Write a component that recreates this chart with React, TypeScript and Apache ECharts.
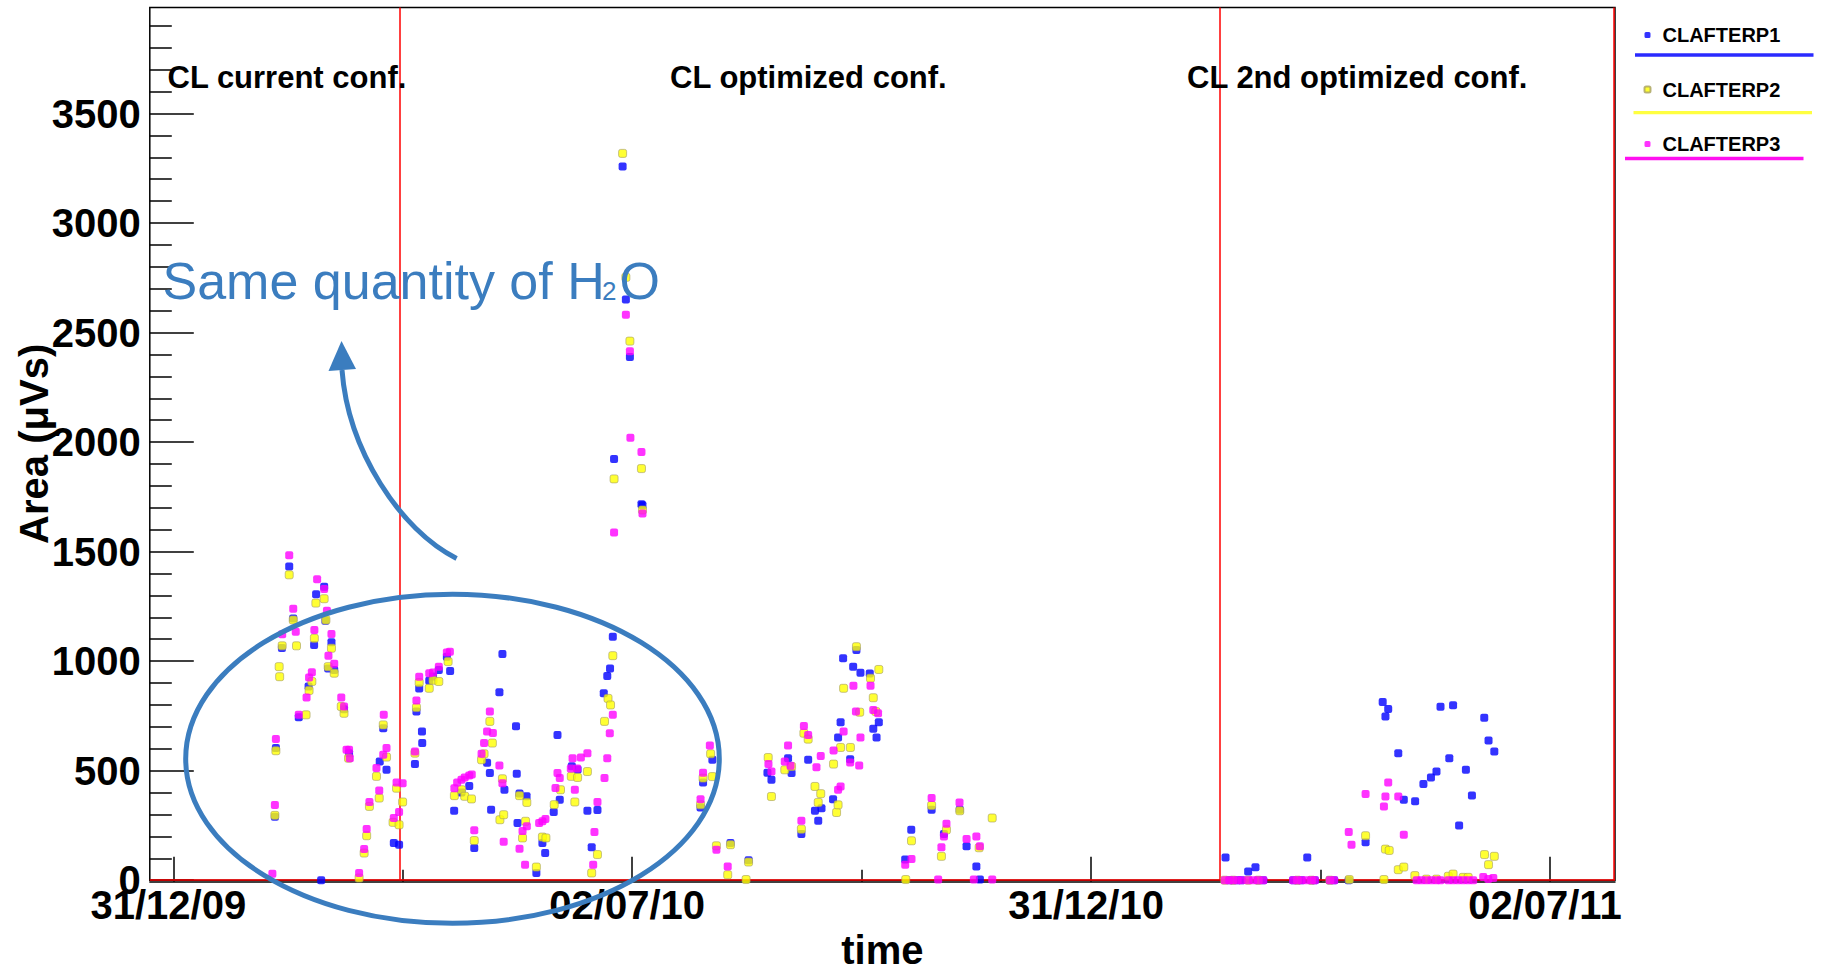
import React, { useEffect, useRef } from "react";
import * as echarts from "echarts";

// ---------- data (x = days since 31/12/2009, y = Area in µVs) ----------
const seriesNames = ["CLAFTERP1", "CLAFTERP2", "CLAFTERP3"];
const seriesColors = ["#0000ff", "#ffff00", "#ff00ff"];
const legendLineColors = ["#2a2aff", "#ffff40", "#ff10f0"];

const xTickDays = [0, 182.5, 365, 547.5];
const xTickLabels = ["31/12/09", "02/07/10", "31/12/10", "02/07/11"];
const xMidTickDays = [91.25, 273.75, 456.25];
const xMinDay = -9.35;
const xMaxDay = 573.4;

const yTickValues = [0, 500, 1000, 1500, 2000, 2500, 3000, 3500];
const yMinorTickValues = [
  100, 200, 300, 400, 600, 700, 800, 900, 1100, 1200, 1300, 1400, 1600, 1700,
  1800, 1900, 2100, 2200, 2300, 2400, 2600, 2700, 2800, 2900, 3100, 3200, 3300,
  3400, 3600, 3700, 3800, 3900,
];
const yMax = 3984;

const phaseBoundaryDays = [90.0, 416.3, 572.9];
const phaseLabels = ["CL current conf.", "CL optimized conf.", "CL 2nd optimized conf."];

const clafterp1 = [
  [40.4, 290], [40.8, 603], [43.2, 1060], [46.1, 1432], [47.7, 1195], [49.9, 744],
  [53.8, 884], [56.0, 1074], [56.8, 1305], [58.8, 0], [60.0, 1340], [60.5, 1184],
  [61.6, 967], [62.9, 1086], [64.0, 960], [67.9, 780], [69.9, 580], [82.1, 542],
  [83.5, 694], [84.8, 504], [87.7, 170], [89.8, 162], [96.1, 530], [96.7, 770],
  [97.8, 875], [98.9, 679], [99.0, 626], [101.8, 910], [103.3, 930], [105.6, 960],
  [108.8, 1020], [110.1, 955], [111.7, 317], [114.6, 400], [117.7, 430], [119.7, 147],
  [124.8, 536], [125.9, 489], [126.4, 322], [129.7, 858], [130.9, 1033], [131.7, 413],
  [136.3, 703], [136.6, 486], [136.9, 261], [137.7, 396], [140.5, 383], [144.4, 33],
  [146.8, 170], [147.9, 124], [151.3, 311], [152.8, 663], [153.7, 367], [158.5, 520],
  [160.8, 505], [164.7, 317], [166.4, 150], [168.7, 321], [171.2, 854], [172.6, 932],
  [173.7, 967], [174.8, 1111], [175.3, 1923], [178.7, 3258], [180.0, 2651],
  [181.6, 2388], [186.2, 1716], [186.6, 1712],
  [209.7, 332], [210.7, 446], [214.4, 550], [221.6, 170], [228.8, 91], [236.3, 491],
  [237.9, 458], [244.5, 557], [245.9, 489], [249.8, 211], [252.5, 550], [255.2, 317],
  [256.5, 271], [257.8, 329], [262.4, 370], [264.4, 651], [265.4, 721], [266.4, 1013],
  [269.2, 552], [270.4, 975], [271.7, 1051], [273.3, 947], [277.0, 944], [278.4, 691],
  [279.7, 651], [280.6, 721], [291.1, 94], [293.5, 230], [301.6, 322], [306.5, 211],
  [312.8, 322], [315.5, 155], [319.4, 63], [320.8, 3],
  [418.5, 104], [420.0, 0], [421.5, 0], [423.3, 0], [424.9, 0], [427.5, 40],
  [430.4, 59], [431.5, 0], [433.5, 0], [445.4, 0], [447.1, 0], [448.7, 0],
  [451.0, 104], [452.7, 0], [454.0, 0], [460.0, 0], [461.7, 0], [467.5, 0],
  [474.2, 173], [481.0, 814], [482.1, 747], [483.2, 781], [487.2, 580], [489.4, 367],
  [493.9, 360], [497.2, 439], [500.2, 469], [502.4, 496], [504.0, 792], [507.5, 557],
  [509.0, 799], [511.4, 250], [514.1, 504], [516.5, 387], [521.4, 742], [523.1, 638],
  [525.4, 588],
];

const clafterp2 = [
  [40.4, 296], [40.8, 591], [42.1, 975], [42.3, 929], [43.3, 1070], [46.1, 1394],
  [47.7, 1188], [49.0, 1070], [52.8, 755], [54.0, 866], [55.1, 907], [56.1, 1104],
  [56.7, 1265], [60.0, 1285], [60.7, 1188], [61.6, 975], [62.9, 1059], [64.0, 945],
  [66.8, 793], [67.9, 762], [69.7, 557], [73.9, 10], [75.9, 124], [76.9, 203],
  [78.0, 337], [80.8, 474], [81.9, 375], [83.5, 709], [84.8, 562], [87.4, 264],
  [88.8, 420], [89.8, 253], [91.2, 357], [96.1, 580], [96.7, 788], [97.8, 902],
  [101.8, 876], [103.3, 913], [105.6, 907], [109.3, 998], [111.8, 386], [114.6, 413],
  [115.9, 383], [118.6, 371], [119.7, 181], [122.6, 550], [123.6, 577], [125.9, 725],
  [126.9, 626], [129.9, 276], [130.9, 463], [131.4, 299], [137.7, 386], [138.9, 193],
  [140.1, 269], [140.6, 355], [144.4, 60], [146.8, 197], [148.2, 193], [151.5, 345],
  [154.0, 413], [158.3, 474], [159.7, 357], [160.8, 469], [164.7, 496], [166.4, 33],
  [168.7, 117], [171.5, 725], [172.9, 830], [173.9, 800], [174.8, 1025], [175.3, 1832],
  [178.7, 3318], [180.0, 2752], [181.6, 2461], [186.2, 1879], [186.6, 1690],
  [209.7, 344], [210.7, 466], [213.7, 577], [214.4, 473], [216.0, 157], [220.5, 25],
  [221.6, 162], [227.8, 3], [228.8, 83], [236.6, 560], [237.9, 382], [243.2, 504],
  [245.9, 519], [249.8, 233], [250.8, 671], [252.5, 644], [255.2, 428], [256.5, 355],
  [257.5, 395], [262.6, 530], [263.8, 309], [264.4, 344], [265.4, 606], [266.6, 876],
  [269.3, 606], [271.7, 1066], [273.0, 767], [277.3, 922], [278.4, 833], [279.4, 770],
  [280.6, 962], [291.3, 3], [293.6, 180], [301.6, 341], [305.5, 109], [307.5, 230],
  [312.8, 317], [320.5, 148], [325.7, 284],
  [418.2, 0], [421.5, 0], [427.5, 0], [431.5, 0], [447.1, 0], [452.7, 0], [460.0, 0],
  [467.7, 3], [474.2, 203], [481.5, 3], [482.1, 142], [483.6, 136], [487.2, 48],
  [489.4, 60], [493.8, 21], [498.4, 5], [502.4, 5], [507.1, 18], [509.0, 28],
  [513.0, 13], [515.0, 13], [521.5, 117], [523.1, 71], [525.4, 109],
];

const clafterp3 = [
  [39.4, 29], [40.4, 343], [40.8, 645], [43.3, 1123], [46.1, 1484], [47.7, 1239],
  [48.7, 1134], [49.9, 755], [53.0, 834], [54.0, 925], [55.1, 949], [56.1, 1142],
  [57.2, 1374], [60.0, 1329], [61.1, 1230], [61.7, 1025], [62.9, 1124], [64.0, 988],
  [66.8, 834], [67.9, 793], [68.9, 595], [69.9, 595], [70.2, 557], [73.9, 33],
  [75.9, 143], [76.9, 234], [78.0, 357], [80.8, 512], [81.9, 410], [83.5, 573],
  [83.7, 755], [84.8, 603], [87.7, 284], [88.8, 446], [89.8, 311], [91.2, 443],
  [96.1, 588], [96.7, 820], [97.8, 929], [101.8, 945], [103.3, 948], [105.6, 975],
  [108.8, 1039], [110.0, 1043], [111.8, 420], [112.9, 446], [114.6, 459], [115.9, 469],
  [117.7, 478], [118.7, 483], [119.7, 228], [122.6, 577], [123.6, 626], [124.8, 679],
  [125.9, 770], [127.1, 672], [129.7, 524], [130.9, 443], [131.4, 176], [137.7, 144],
  [138.9, 225], [139.9, 71], [140.6, 246], [145.5, 261], [146.8, 269], [148.0, 279],
  [152.0, 421], [152.8, 489], [153.7, 466], [158.1, 510], [158.8, 557], [159.7, 413],
  [160.6, 510], [162.1, 560], [164.7, 580], [167.0, 71], [167.5, 220], [168.7, 357],
  [171.5, 466], [172.6, 557], [173.6, 671], [174.8, 755], [175.3, 1587], [180.0, 2581],
  [181.6, 2415], [181.8, 2020], [186.2, 1955], [186.6, 1674],
  [209.7, 370], [210.7, 491], [213.4, 615], [216.0, 139], [220.5, 63], [236.7, 531],
  [237.9, 496], [243.2, 542], [244.5, 615], [245.5, 522], [249.8, 271], [250.8, 704],
  [252.5, 663], [255.8, 516], [257.5, 567], [262.6, 592], [264.4, 413], [265.4, 428],
  [266.6, 679], [269.2, 537], [270.5, 888], [271.5, 770], [272.8, 524], [273.3, 651],
  [277.3, 888], [278.4, 777], [280.3, 762], [291.1, 71], [293.6, 97], [301.6, 375],
  [304.2, 3], [305.5, 150], [306.5, 200], [307.5, 258], [312.7, 355], [315.5, 188],
  [318.4, 3], [319.4, 200], [320.8, 155], [325.7, 3],
  [418.2, 0], [420.0, 0], [421.5, 0], [423.3, 0], [424.9, 0], [427.5, 0], [429.5, 0],
  [431.5, 0], [433.5, 0], [445.4, 0], [447.1, 0], [448.7, 0], [450.7, 0], [452.7, 0],
  [454.0, 0], [460.0, 0], [461.7, 0], [467.5, 220], [468.6, 162], [474.2, 394],
  [481.5, 337], [482.1, 382], [483.2, 446], [487.2, 382], [489.4, 208], [494.5, 0],
  [496.4, 0], [498.4, 0], [500.4, 0], [502.4, 0], [504.0, 0], [507.1, 0], [509.0, 0],
  [511.0, 0], [513.0, 0], [515.0, 0], [517.0, 0], [521.0, 15], [523.0, 5], [525.0, 10],
];

const seriesData = [clafterp1, clafterp2, clafterp3];

const FONT = "'Liberation Sans', Arial, Helvetica, sans-serif";
const ANNOT_BLUE = "#3b7dbf";

export default function App() {
  const ref = useRef<HTMLDivElement>(null);

  useEffect(() => {
    if (!ref.current) return;
    const chart = echarts.init(ref.current, undefined, { renderer: "svg" });

    const scatterSeries = seriesNames.map((name, i) => ({
      name,
      type: "scatter",
      data: seriesData[i],
      xAxisIndex: 0,
      yAxisIndex: 0,
      symbol: "roundRect",
      symbolSize: 8,
      itemStyle:
        i === 1
          ? { color: seriesColors[i], borderColor: "#a8a060", borderWidth: 0.8 }
          : { color: seriesColors[i] },
      emphasis: { disabled: true },
      z: 3,
    }));

    const phaseText = (text: string, x: number) => ({
      type: "text",
      x,
      y: 77,
      z: 50,
      style: {
        text,
        fontFamily: FONT,
        fontSize: 31,
        fontWeight: "bold",
        fill: "#000",
        align: "left",
        verticalAlign: "middle",
      },
    });

    const option: any = {
      animation: false,
      backgroundColor: "#ffffff",
      grid: {
        left: 149.8,
        right: 209,
        top: 7.5,
        bottom: 90.8,
        show: true,
        borderColor: "#000",
        borderWidth: 1.5,
        backgroundColor: "transparent",
        containLabel: false,
        outerBoundsMode: "none",
      },
      legend: {
        show: true,
        orient: "vertical",
        left: 1638.5,
        top: 20,
        itemWidth: 6,
        itemHeight: 6,
        itemGap: 34.5,
        selectedMode: false,
        data: seriesNames,
        textStyle: {
          fontFamily: FONT,
          fontSize: 20,
          fontWeight: "bold",
          color: "#000",
          lineHeight: 20,
          padding: [0, 0, 0, 7],
        },
      },
      xAxis: [
        {
          type: "value",
          min: xMinDay,
          max: xMaxDay,
          position: "bottom",
          offset: 1.5,
          name: "time",
          nameLocation: "middle",
          nameGap: 53,
          nameMoveOverlap: false,
          nameTextStyle: {
            fontFamily: FONT,
            fontSize: 40,
            fontWeight: "bold",
            color: "#000",
            lineHeight: 30,
          },
          axisLine: { show: true, onZero: false, lineStyle: { color: "#000", width: 1.5 } },
          axisTick: {
            show: true,
            inside: true,
            length: 25,
            customValues: xTickDays,
            lineStyle: { color: "#000", width: 1.5 },
          },
          axisLabel: {
            show: true,
            customValues: xTickDays,
            margin: 3.5,
            formatter: (v: number) => {
              const idx = xTickDays.findIndex((d) => Math.abs(d - v) < 1e-6);
              return idx >= 0 ? `{a|${xTickLabels[idx]}}` : "";
            },
            rich: {
              a: {
                fontFamily: FONT,
                fontSize: 40,
                fontWeight: "bold",
                color: "#000",
                padding: [0, 10, 0, 0],
              },
            },
          },
          splitLine: { show: false },
        },
        {
          type: "value",
          min: xMinDay,
          max: xMaxDay,
          position: "bottom",
          offset: 1.5,
          axisLine: { show: false, onZero: false },
          axisLabel: { show: false },
          axisTick: {
            show: true,
            inside: true,
            length: 12,
            customValues: xMidTickDays,
            lineStyle: { color: "#000", width: 1.5 },
          },
          splitLine: { show: false },
        },
      ],
      yAxis: [
        {
          type: "value",
          min: 0,
          max: yMax,
          position: "left",
          name: "Area (\u03bcVs)",
          nameLocation: "middle",
          nameRotate: 90,
          nameGap: 96,
          nameMoveOverlap: false,
          nameTextStyle: { fontFamily: FONT, fontSize: 40, fontWeight: "bold", color: "#000" },
          axisLine: { show: false, onZero: false },
          axisTick: {
            show: true,
            inside: true,
            length: 44,
            customValues: yTickValues,
            lineStyle: { color: "#000", width: 1.5 },
          },
          axisLabel: {
            show: true,
            customValues: yTickValues,
            margin: 9,
            fontFamily: FONT,
            fontSize: 40,
            fontWeight: "bold",
            color: "#000",
            formatter: (v: number) => String(v),
          },
          splitLine: { show: false },
        },
        {
          type: "value",
          min: 0,
          max: yMax,
          position: "left",
          axisLine: { show: false, onZero: false },
          axisLabel: { show: false },
          axisTick: {
            show: true,
            inside: true,
            length: 22,
            customValues: yMinorTickValues,
            lineStyle: { color: "#000", width: 1.5 },
          },
          splitLine: { show: false },
        },
      ],
      series: [
        {
          name: "phases",
          type: "scatter",
          data: [],
          xAxisIndex: 0,
          yAxisIndex: 0,
          markLine: {
            silent: true,
            symbol: "none",
            z: 1,
            label: { show: false },
            lineStyle: { color: "#ff0000", width: 1.5, type: "solid" },
            emphasis: { disabled: true },
            data: [
              ...phaseBoundaryDays.map((d) => ({ xAxis: d })),
              { yAxis: 0 },
            ],
          },
        },
        ...scatterSeries,
      ],
      graphic: [
        phaseText(phaseLabels[0], 167.5),
        phaseText(phaseLabels[1], 670),
        phaseText(phaseLabels[2], 1187),
        {
          type: "text",
          x: 162.5,
          y: 281.3,
          z: 60,
          style: {
            text: "Same quantity of H",
            fontFamily: FONT,
            fontSize: 52,
            fill: ANNOT_BLUE,
            align: "left",
            verticalAlign: "middle",
          },
        },
        {
          type: "text",
          x: 602,
          y: 291,
          z: 60,
          style: {
            text: "2",
            fontFamily: FONT,
            fontSize: 26,
            fill: ANNOT_BLUE,
            align: "left",
            verticalAlign: "middle",
          },
        },
        {
          type: "text",
          x: 619.5,
          y: 281.3,
          z: 60,
          style: {
            text: "O",
            fontFamily: FONT,
            fontSize: 52,
            fill: ANNOT_BLUE,
            align: "left",
            verticalAlign: "middle",
          },
        },
        {
          type: "ellipse",
          z: 60,
          shape: { cx: 452.5, cy: 758.8, rx: 266.8, ry: 164.5 },
          style: { fill: "none", stroke: ANNOT_BLUE, lineWidth: 5 },
        },
        {
          type: "bezierCurve",
          z: 60,
          shape: {
            x1: 456.6,
            y1: 558.4,
            cpx1: 400,
            cpy1: 530,
            cpx2: 348,
            cpy2: 450,
            x2: 342,
            y2: 370,
          },
          style: { fill: "none", stroke: ANNOT_BLUE, lineWidth: 5 },
        },
        {
          type: "polygon",
          z: 60,
          shape: { points: [[341.5, 341], [328.5, 371], [356, 369]] },
          style: { fill: ANNOT_BLUE, stroke: "none" },
        },
        {
          type: "line",
          z: 50,
          shape: { x1: 1635, y1: 55, x2: 1813.5, y2: 55 },
          style: { stroke: legendLineColors[0], lineWidth: 3.3 },
        },
        {
          type: "line",
          z: 50,
          shape: { x1: 1633.5, y1: 112.7, x2: 1812, y2: 112.7 },
          style: { stroke: legendLineColors[1], lineWidth: 3.3 },
        },
        {
          type: "line",
          z: 50,
          shape: { x1: 1625, y1: 158.5, x2: 1803.5, y2: 158.5 },
          style: { stroke: legendLineColors[2], lineWidth: 3.3 },
        },
      ],
    };

    chart.setOption(option);
    return () => {
      chart.dispose();
    };
  }, []);

  return (
    <div
      ref={ref}
      style={{
        position: "fixed",
        left: 0,
        top: 0,
        width: 1824,
        height: 971,
        background: "#fff",
      }}
    />
  );
}
